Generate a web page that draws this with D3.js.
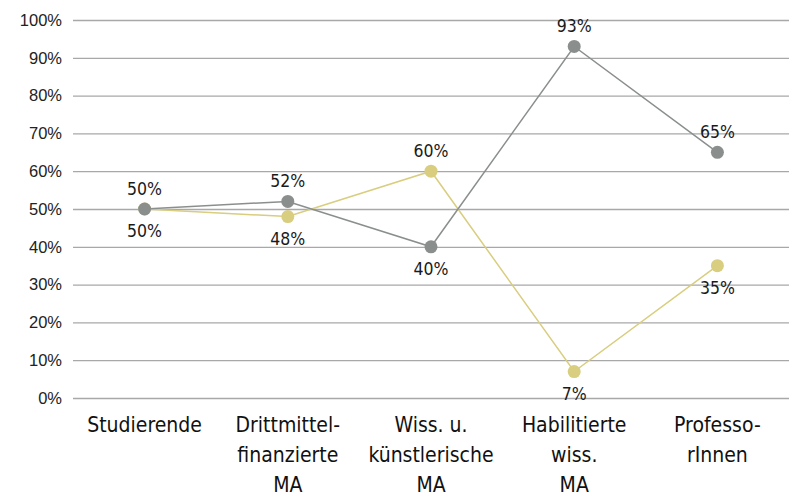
<!DOCTYPE html>
<html>
<head>
<meta charset="utf-8">
<script src="https://cdn.jsdelivr.net/npm/d3@7"></script>
<style>
  body { margin: 0; background: #fff; }
  svg { display: block; font-family: "Liberation Sans Narrow", "DejaVu Sans Condensed", "Roboto", sans-serif; }
</style>
</head>
<body>
<svg id="chart" width="789" height="496"></svg>
<script>
// chart data
const categories = [
  ["Studierende"],
  ["Drittmittel-", "finanzierte", "MA"],
  ["Wiss. u.", "künstlerische", "MA"],
  ["Habilitierte", "wiss.", "MA"],
  ["Professo-", "rInnen"]
];
const grayValues = [50, 52, 40, 93, 65];
const yellowValues = [50, 48, 60, 7, 35];
const yTicks = [0, 10, 20, 30, 40, 50, 60, 70, 80, 90, 100];

const width = 789, height = 496;
const margin = { top: 20, right: 0, bottom: 98, left: 73 };

const svg = d3.select("#chart");

const x = d3.scalePoint()
  .domain(d3.range(categories.length))
  .range([margin.left, width - margin.right])
  .padding(0.5);

const y = d3.scaleLinear()
  .domain([0, 100])
  .range([height - margin.bottom, margin.top]);

// gridlines + y labels
const yAxis = svg.append("g")
  .attr("transform", `translate(${margin.left},0)`)
  .call(d3.axisLeft(y).tickValues(yTicks).tickFormat(d => d + "%")
    .tickSize(-(width - margin.left - margin.right)).tickPadding(11));
yAxis.select(".domain").remove();
yAxis.selectAll(".tick line").attr("stroke", "#a8a8a8").attr("stroke-width", 1.3);
yAxis.selectAll(".tick text")
  .attr("fill", "#222")
  .style("font-size", "16.5px");

// x labels
const xl = svg.append("g");
categories.forEach((lines, i) => {
  const t = xl.append("text")
    .attr("x", x(i))
    .attr("y", y(0) + 34)
    .attr("text-anchor", "middle")
    .attr("fill", "#111")
    .style("font-size", "21px");
  lines.forEach((ln, j) => {
    t.append("tspan").attr("x", x(i)).attr("dy", j === 0 ? 0 : 30).text(ln);
  });
});

// yellow drawn first so the gray marks sit on top
const series = [
  { values: yellowValues, other: grayValues, color: "#d9cd7f", first: false },
  { values: grayValues, other: yellowValues, color: "#8a8f8d", first: true }
];

const line = d3.line().x((d, i) => x(i)).y(d => y(d));

series.forEach(s => {
  svg.append("path")
    .datum(s.values)
    .attr("fill", "none")
    .attr("stroke", s.color)
    .attr("stroke-width", 1.5)
    .attr("d", line);
});

series.forEach(s => {
  svg.append("g").selectAll("circle")
    .data(s.values)
    .join("circle")
    .attr("cx", (d, i) => x(i))
    .attr("cy", d => y(d))
    .attr("r", 6.5)
    .attr("fill", s.color);

  // value labels, placed on the side away from the other series
  svg.append("g").selectAll("text")
    .data(s.values)
    .join("text")
    .attr("x", (d, i) => x(i))
    .attr("y", (d, i) => {
      const above = s.first ? d >= s.other[i] : d > s.other[i];
      return above ? y(d) - 14 : y(d) + 28;
    })
    .attr("text-anchor", "middle")
    .attr("fill", "#1a1a1a")
    .style("font-size", "17.5px")
    .text(d => d + "%");
});
</script>
</body>
</html>
